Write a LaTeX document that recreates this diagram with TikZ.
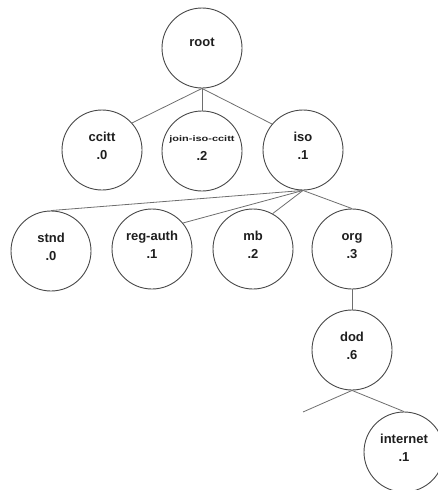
\documentclass[tikz,border=0pt]{standalone}
\usepackage{fontspec}
\setmainfont{Liberation Sans}
\definecolor{ringgray}{HTML}{484848}
\definecolor{edgegray}{HTML}{6E6E6E}
\definecolor{inkgray}{HTML}{1E1E1E}
\begin{document}
\begin{tikzpicture}[x=1pt,y=-1pt,
  oid/.style={circle,draw=ringgray,line width=0.9pt,minimum size=80pt,inner sep=0pt},
  oidname/.style={anchor=base,inner sep=0pt,text=inkgray,font=\fontsize{13}{15}\selectfont\bfseries},
  oidnum/.style={anchor=base,inner sep=0pt,text=inkgray,font=\fontsize{13}{15}\selectfont\bfseries},
  arc/.style={draw=edgegray,line width=0.8pt}]
\useasboundingbox (0,0) rectangle (438,490);

% arcs of the OID tree
\node[oid] (root) at (202,48) {};
\node[oid] (ccitt) at (102,150) {};
\node[oid] (join) at (202,151) {};
\node[oid] (iso) at (303,150) {};
\node[oid] (stnd) at (51,251) {};
\node[oid] (regauth) at (152,249) {};
\node[oid] (mb) at (253,249) {};
\node[oid] (org) at (352,249) {};
\node[oid] (dod) at (352,350) {};
\node[oid] (internet) at (404,452) {};
\coordinate (dodleft) at (303,412);

% labels: name on the first line, number on the second
\node[oidname] (root-name) at (202,46.5) {root};
\node[oidname] (ccitt-name) at (102,141.5) {ccitt};
\node[oidnum] (ccitt-num) at (102,159.5) {.0};
\node[oidname] (join-name) at (202,141) {\scalebox{1.37}[1]{\fontsize{8}{9}\selectfont join-iso-ccitt}};
\node[oidnum] (join-num) at (202,160.5) {.2};
\node[oidname] (iso-name) at (303,141.5) {iso};
\node[oidnum] (iso-num) at (303,159.5) {.1};
\node[oidname] (stnd-name) at (51,242.5) {stnd};
\node[oidnum] (stnd-num) at (51,260.5) {.0};
\node[oidname] (regauth-name) at (152,240.5) {reg-auth};
\node[oidnum] (regauth-num) at (152,258.5) {.1};
\node[oidname] (mb-name) at (253,240.5) {mb};
\node[oidnum] (mb-num) at (253,258.5) {.2};
\node[oidname] (org-name) at (352,240.5) {org};
\node[oidnum] (org-num) at (352,258.5) {.3};
\node[oidname] (dod-name) at (352,341.5) {dod};
\node[oidnum] (dod-num) at (352,359.5) {.6};
\node[oidname] (internet-name) at (404,443.5) {internet};
\node[oidnum] (internet-num) at (404,461.5) {.1};

% connectors
\draw[arc] (root.south) -- (ccitt.42);
\draw[arc] (root.south) -- (join.north);
\draw[arc] (root.south) -- (iso.140);
\draw[arc] (iso.south) -- (stnd.north);
\draw[arc] (iso.south) -- (regauth.40);
\draw[arc] (iso.south) -- (mb.61);
\draw[arc] (iso.south) -- (org.north);
\draw[arc] (org.south) -- (dod.north);
\draw[arc] (dod.south) -- (dodleft);
\draw[arc] (dod.south) -- (internet.north);
\end{tikzpicture}
\end{document}
